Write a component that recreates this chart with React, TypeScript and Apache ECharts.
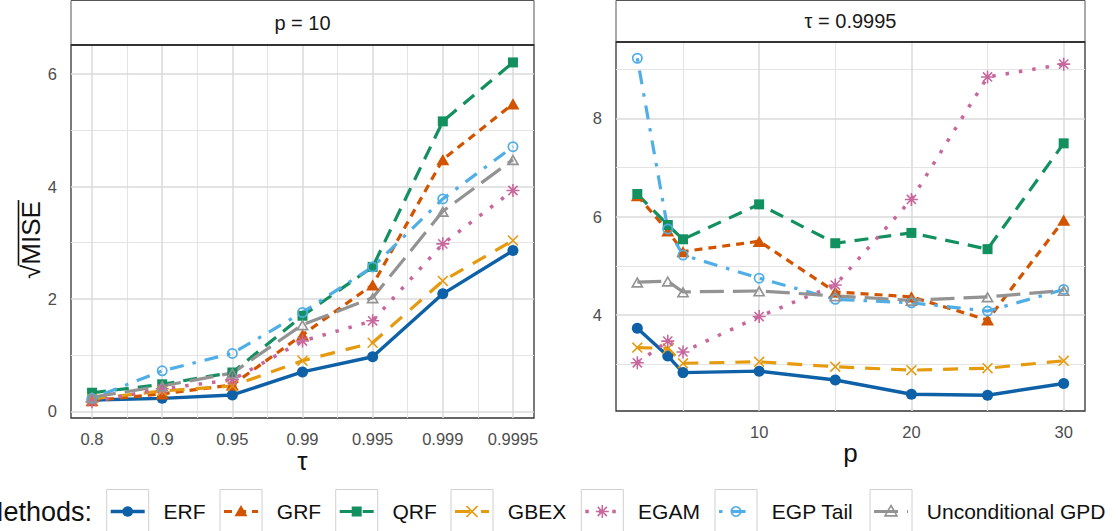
import React, { useEffect, useRef } from 'react';
import * as echarts from 'echarts';

// ---------- data ----------
const methods = ['ERF', 'GRF', 'QRF', 'GBEX', 'EGAM', 'EGP Tail', 'Unconditional GPD'];
const tauLabels = ['0.8', '0.9', '0.95', '0.99', '0.995', '0.999', '0.9995'];
const pValues = [2, 4, 5, 10, 15, 20, 25, 30];

// left panel: p = 10, sqrt(MISE) for each tau
const leftERF = [0.20, 0.23, 0.29, 0.70, 0.97, 2.09, 2.86];
const leftGRF = [0.19, 0.31, 0.47, 1.36, 2.25, 4.48, 5.47];
const leftQRF = [0.33, 0.48, 0.69, 1.70, 2.57, 5.16, 6.21];
const leftGBEX = [0.22, 0.36, 0.45, 0.90, 1.22, 2.32, 3.04];
const leftEGAM = [0.17, 0.40, 0.56, 1.25, 1.61, 2.98, 3.93];
const leftEGP = [0.23, 0.72, 1.03, 1.76, 2.57, 3.78, 4.71];
const leftGPD = [0.25, 0.45, 0.68, 1.54, 2.02, 3.56, 4.48];

// right panel: tau = 0.9995, sqrt(MISE) for each p
const rightERF = [3.73, 3.17, 2.83, 2.86, 2.68, 2.39, 2.37, 2.61];
const rightGRF = [6.43, 5.71, 5.29, 5.50, 4.47, 4.37, 3.90, 5.93];
const rightQRF = [6.46, 5.83, 5.54, 6.25, 5.46, 5.67, 5.34, 7.49];
const rightGBEX = [3.34, 3.32, 3.02, 3.05, 2.95, 2.88, 2.92, 3.07];
const rightEGAM = [3.03, 3.47, 3.25, 3.97, 4.61, 6.35, 8.84, 9.10];
const rightEGP = [9.22, 5.75, 5.22, 4.75, 4.32, 4.25, 4.08, 4.52];
const rightGPD = [4.67, 4.69, 4.47, 4.49, 4.39, 4.30, 4.37, 4.50];

const leftSeries = [leftERF, leftGRF, leftQRF, leftGBEX, leftEGAM, leftEGP, leftGPD];
const rightSeries = [rightERF, rightGRF, rightQRF, rightGBEX, rightEGAM, rightEGP, rightGPD];

// axis breaks
const leftYMajor = [0, 2, 4, 6];
const leftYMinor = [1, 3, 5];
const rightXMajor = [10, 20, 30];
const rightXMinor = [5, 15, 25];
const rightYMajor = [4, 6, 8];
const rightYMinor = [3, 5, 7, 9];

// ---------- styles ----------
const FONT = '"Liberation Sans", Arial, Helvetica, sans-serif';
const SYM_TRI = 'path://M10,0 L20,17.32 L0,17.32 Z';
const SYM_X = 'path://M2,0 L10,8 L18,0 L20,2 L12,10 L20,18 L18,20 L10,12 L2,20 L0,18 L8,10 L0,2 Z';
const SYM_STAR =
  'path://M8.8,0 L11.2,0 L11.2,20 L8.8,20 Z M0,8.8 L20,8.8 L20,11.2 L0,11.2 Z ' +
  'M3.78,2.08 L17.92,16.22 L16.22,17.92 L2.08,3.78 Z M17.92,3.78 L3.78,17.92 L2.08,16.22 L16.22,2.08 Z';
const SYM_RING =
  'path://M10,0 A10,10 0 1,1 10,20 A10,10 0 1,1 10,0 Z M10,3.2 A6.8,6.8 0 1,0 10,16.8 A6.8,6.8 0 1,0 10,3.2 Z';
const SYM_OTRI = 'path://M10,0 L20,17.32 L0,17.32 Z M10,5.14 L4.45,14.75 L15.55,14.75 Z';

const styles = [
  { color: '#0E61A7', dash: 'solid' as any, width: 3.4, symbol: 'circle', size: 11, kind: 'circle' },
  { color: '#D35400', dash: [8, 6], width: 3.2, symbol: SYM_TRI, size: 13, kind: 'tri' },
  { color: '#13905F', dash: [14, 9], width: 3.2, symbol: 'rect', size: 10, kind: 'square' },
  { color: '#E69A0E', dash: [15, 11], width: 3.2, symbol: SYM_X, size: 11, kind: 'x' },
  { color: '#C8679D', dash: [3.5, 10], width: 3.5, symbol: SYM_STAR, size: 13, kind: 'star' },
  { color: '#50AEE6', dash: [3.5, 9, 14, 9], width: 3.2, symbol: SYM_RING, size: 11, kind: 'ring' },
  { color: '#939393', dash: [24, 9], width: 3.2, symbol: SYM_OTRI, size: 13, kind: 'otri' },
];

const LEFT = { left: 71, top: 45, width: 463, height: 373 };
const RIGHT = { left: 616, top: 42, width: 469, height: 369 };
const LEGEND_BOX_X = [106.7, 220, 335.7, 451, 581.3, 715, 870];

const majorLS = { color: '#dadada', width: 1.5, type: 'solid' };
const minorLS = { color: '#e4e4e4', width: 1.1, type: 'solid' };

function gridSeries(idx: number, xMaj: number[], xMin: number[], yMaj: number[], yMin: number[], anchor: number[]) {
  const data: any[] = [];
  xMin.forEach((v) => data.push({ xAxis: v, lineStyle: minorLS }));
  yMin.forEach((v) => data.push({ yAxis: v, lineStyle: minorLS }));
  xMaj.forEach((v) => data.push({ xAxis: v, lineStyle: majorLS }));
  yMaj.forEach((v) => data.push({ yAxis: v, lineStyle: majorLS }));
  return {
    type: 'line',
    xAxisIndex: idx,
    yAxisIndex: idx,
    data: [anchor],
    showSymbol: false,
    symbol: 'none',
    lineStyle: { width: 0, opacity: 0 },
    silent: true,
    z: 1,
    markLine: {
      silent: true,
      symbol: ['none', 'none'],
      label: { show: false },
      emphasis: { disabled: true },
      animation: false,
      data,
    },
  };
}

function legendMarker(kind: string, cx: number, cy: number, color: string): any {
  switch (kind) {
    case 'circle':
      return { type: 'circle', shape: { cx, cy, r: 5.3 }, style: { fill: color } };
    case 'tri':
      return { type: 'polygon', shape: { points: [[cx, cy - 6.5], [cx + 6.5, cy + 4.8], [cx - 6.5, cy + 4.8]] }, style: { fill: color } };
    case 'square':
      return { type: 'rect', shape: { x: cx - 5, y: cy - 5, width: 10, height: 10 }, style: { fill: color } };
    case 'x':
      return {
        type: 'group',
        children: [
          { type: 'line', shape: { x1: cx - 5.5, y1: cy - 5.5, x2: cx + 5.5, y2: cy + 5.5 }, style: { stroke: color, lineWidth: 1.7 } },
          { type: 'line', shape: { x1: cx - 5.5, y1: cy + 5.5, x2: cx + 5.5, y2: cy - 5.5 }, style: { stroke: color, lineWidth: 1.7 } },
        ],
      };
    case 'star': {
      const r = 6.5;
      const d = r * Math.SQRT1_2;
      const segs = [
        [cx, cy - r, cx, cy + r],
        [cx - r, cy, cx + r, cy],
        [cx - d, cy - d, cx + d, cy + d],
        [cx - d, cy + d, cx + d, cy - d],
      ];
      return {
        type: 'group',
        children: segs.map((s) => ({ type: 'line', shape: { x1: s[0], y1: s[1], x2: s[2], y2: s[3] }, style: { stroke: color, lineWidth: 1.5 } })),
      };
    }
    case 'ring':
      return { type: 'circle', shape: { cx, cy, r: 4.7 }, style: { fill: 'none', stroke: color, lineWidth: 1.7 } };
    default:
      return {
        type: 'polygon',
        shape: { points: [[cx, cy - 6], [cx + 6, cy + 4.4], [cx - 6, cy + 4.4]] },
        style: { fill: 'none', stroke: color, lineWidth: 1.6 },
      };
  }
}

export default function App() {
  const ref = useRef<HTMLDivElement>(null);

  useEffect(() => {
    if (!ref.current) return;
    const chart = echarts.init(ref.current, null, { renderer: 'svg' });

    const ctx = document.createElement('canvas').getContext('2d')!;
    const measure = (t: string, size: number) => {
      ctx.font = `${size}px "Liberation Sans", Arial, sans-serif`;
      return ctx.measureText(t).width;
    };

    const leftX = tauLabels.map((_, i) => i);

    const series: any[] = [];
    series.push(gridSeries(0, leftX, leftX.slice(0, -1).map((v) => v + 0.5), leftYMajor, leftYMinor, [0, leftERF[0]]));
    series.push(gridSeries(1, rightXMajor, rightXMinor, rightYMajor, rightYMinor, [pValues[0], rightERF[0]]));

    [0, 1].forEach((panel) => {
      const xs = panel === 0 ? leftX : pValues;
      const sets = panel === 0 ? leftSeries : rightSeries;
      sets.forEach((ys, k) => {
        const st = styles[k];
        const pts = xs.map((x, i) => [x, ys[i]]);
        series.push({
          type: 'line',
          name: methods[k],
          xAxisIndex: panel,
          yAxisIndex: panel,
          data: pts,
          showSymbol: false,
          symbol: 'none',
          silent: true,
          z: 10 + k,
          lineStyle: { color: st.color, width: st.width, type: st.dash, cap: 'butt', join: 'round' },
        });
      });
      sets.forEach((ys, k) => {
        const st = styles[k];
        const pts = xs.map((x, i) => [x, ys[i]]);
        series.push({
          type: 'scatter',
          name: methods[k],
          xAxisIndex: panel,
          yAxisIndex: panel,
          data: pts,
          symbol: st.symbol,
          symbolSize: st.size,
          symbolKeepAspect: true,
          silent: true,
          z: 30 + k,
          itemStyle: { color: st.color, opacity: 1 },
        });
      });
    });

    const labelStyle = { color: '#4d4d4d', fontSize: 16.5, fontFamily: FONT };

    // ---- legend built from graphics ----
    const legendY = 511.5;
    const legendChildren: any[] = [];
    legendChildren.push({
      type: 'text',
      x: 92,
      y: legendY,
      style: { text: 'Methods:', fill: '#111', font: `27px ${FONT}`, align: 'right', verticalAlign: 'middle' },
    });
    methods.forEach((m, k) => {
      const st = styles[k];
      const bx = LEGEND_BOX_X[k];
      const cx = bx + 21;
      legendChildren.push({
        type: 'rect',
        shape: { x: bx, y: 489.5, width: 42, height: 44 },
        style: { fill: '#fff', stroke: '#d0d0d0', lineWidth: 1 },
      });
      legendChildren.push({
        type: 'line',
        shape: { x1: bx + 4, y1: legendY, x2: bx + 38, y2: legendY },
        style: {
          stroke: st.color,
          lineWidth: st.width,
          lineDash: Array.isArray(st.dash) ? st.dash : null,
          lineCap: 'butt',
        },
      });
      legendChildren.push(legendMarker(st.kind, cx, legendY, st.color));
      legendChildren.push({
        type: 'text',
        x: bx + 56.8,
        y: legendY,
        style: { text: m, fill: '#111', font: `21px ${FONT}`, align: 'left', verticalAlign: 'middle' },
      });
    });

    // y-axis title with radical overline
    const sqW = measure('√', 26);
    const fullW = measure('√MISE', 26);

    const option: any = {
      animation: false,
      backgroundColor: '#ffffff',
      grid: [
        { ...LEFT, show: true, borderColor: '#333333', borderWidth: 1.3, backgroundColor: '#ffffff', containLabel: false },
        { ...RIGHT, show: true, borderColor: '#333333', borderWidth: 1.3, backgroundColor: '#ffffff', containLabel: false },
      ],
      xAxis: [
        {
          type: 'value',
          gridIndex: 0,
          min: -0.3,
          max: 6.3,
          splitLine: { show: false },
          axisLine: { show: false },
          axisTick: { show: false },
          axisLabel: {
            ...labelStyle,
            margin: 12,
            customValues: leftX,
            formatter: (v: number) => (Math.abs(v - Math.round(v)) < 1e-6 && tauLabels[Math.round(v)] ? tauLabels[Math.round(v)] : ''),
          },
        },
        {
          type: 'value',
          gridIndex: 1,
          min: 0.6,
          max: 31.4,
          splitLine: { show: false },
          axisLine: { show: false },
          axisTick: { show: false },
          axisLabel: {
            ...labelStyle,
            margin: 12,
            customValues: rightXMajor,
            formatter: (v: number) => (rightXMajor.includes(v) ? String(v) : ''),
          },
        },
      ],
      yAxis: [
        {
          type: 'value',
          gridIndex: 0,
          min: -0.12,
          max: 6.52,
          splitLine: { show: false },
          axisLine: { show: false },
          axisTick: { show: false },
          axisLabel: {
            ...labelStyle,
            margin: 14,
            customValues: leftYMajor,
            formatter: (v: number) => (leftYMajor.includes(v) ? String(v) : ''),
          },
        },
        {
          type: 'value',
          gridIndex: 1,
          min: 2.05,
          max: 9.55,
          splitLine: { show: false },
          axisLine: { show: false },
          axisTick: { show: false },
          axisLabel: {
            ...labelStyle,
            margin: 14,
            customValues: rightYMajor,
            formatter: (v: number) => (rightYMajor.includes(v) ? String(v) : ''),
          },
        },
      ],
      series,
      graphic: [
        // strips
        {
          type: 'rect',
          shape: { x: LEFT.left, y: 0.5, width: LEFT.width, height: LEFT.top - 0.5 },
          style: { fill: '#ffffff', stroke: '#555555', lineWidth: 1 },
          z: 50,
        },
        {
          type: 'line',
          shape: { x1: LEFT.left, y1: LEFT.top, x2: LEFT.left + LEFT.width, y2: LEFT.top },
          style: { stroke: '#333333', lineWidth: 2.2 },
          z: 51,
        },
        {
          type: 'text',
          x: LEFT.left + LEFT.width / 2,
          y: LEFT.top / 2,
          style: { text: 'p = 10', fill: '#1a1a1a', font: `20px ${FONT}`, align: 'center', verticalAlign: 'middle' },
          z: 52,
        },
        {
          type: 'rect',
          shape: { x: RIGHT.left, y: 0.5, width: RIGHT.width, height: RIGHT.top - 0.5 },
          style: { fill: '#ffffff', stroke: '#555555', lineWidth: 1 },
          z: 50,
        },
        {
          type: 'line',
          shape: { x1: RIGHT.left, y1: RIGHT.top, x2: RIGHT.left + RIGHT.width, y2: RIGHT.top },
          style: { stroke: '#333333', lineWidth: 2.2 },
          z: 51,
        },
        {
          type: 'text',
          x: RIGHT.left + RIGHT.width / 2,
          y: RIGHT.top / 2,
          style: { text: 'τ = 0.9995', fill: '#1a1a1a', font: `20px ${FONT}`, align: 'center', verticalAlign: 'middle' },
          z: 52,
        },
        // axis titles
        {
          type: 'text',
          x: LEFT.left + LEFT.width / 2,
          y: 461,
          style: { text: 'τ', fill: '#111', font: `26px ${FONT}`, align: 'center', verticalAlign: 'middle' },
        },
        {
          type: 'text',
          x: RIGHT.left + RIGHT.width / 2,
          y: 453,
          style: { text: 'p', fill: '#111', font: `26px ${FONT}`, align: 'center', verticalAlign: 'middle' },
        },
        {
          type: 'group',
          x: 31,
          y: 240,
          rotation: Math.PI / 2,
          children: [
            {
              type: 'text',
              x: 0,
              y: 0,
              style: { text: '√MISE', fill: '#111', font: `26px ${FONT}`, align: 'center', verticalAlign: 'middle' },
            },
            {
              type: 'line',
              shape: { x1: -fullW / 2 + sqW - 1, y1: -12.5, x2: fullW / 2 + 1, y2: -12.5 },
              style: { stroke: '#111', lineWidth: 1.6 },
            },
          ],
        },
        { type: 'group', children: legendChildren },
      ],
    };

    chart.setOption(option);
    return () => chart.dispose();
  }, []);

  return <div ref={ref} style={{ position: 'fixed', left: 0, top: 0, width: 1118, height: 531 }} />;
}
